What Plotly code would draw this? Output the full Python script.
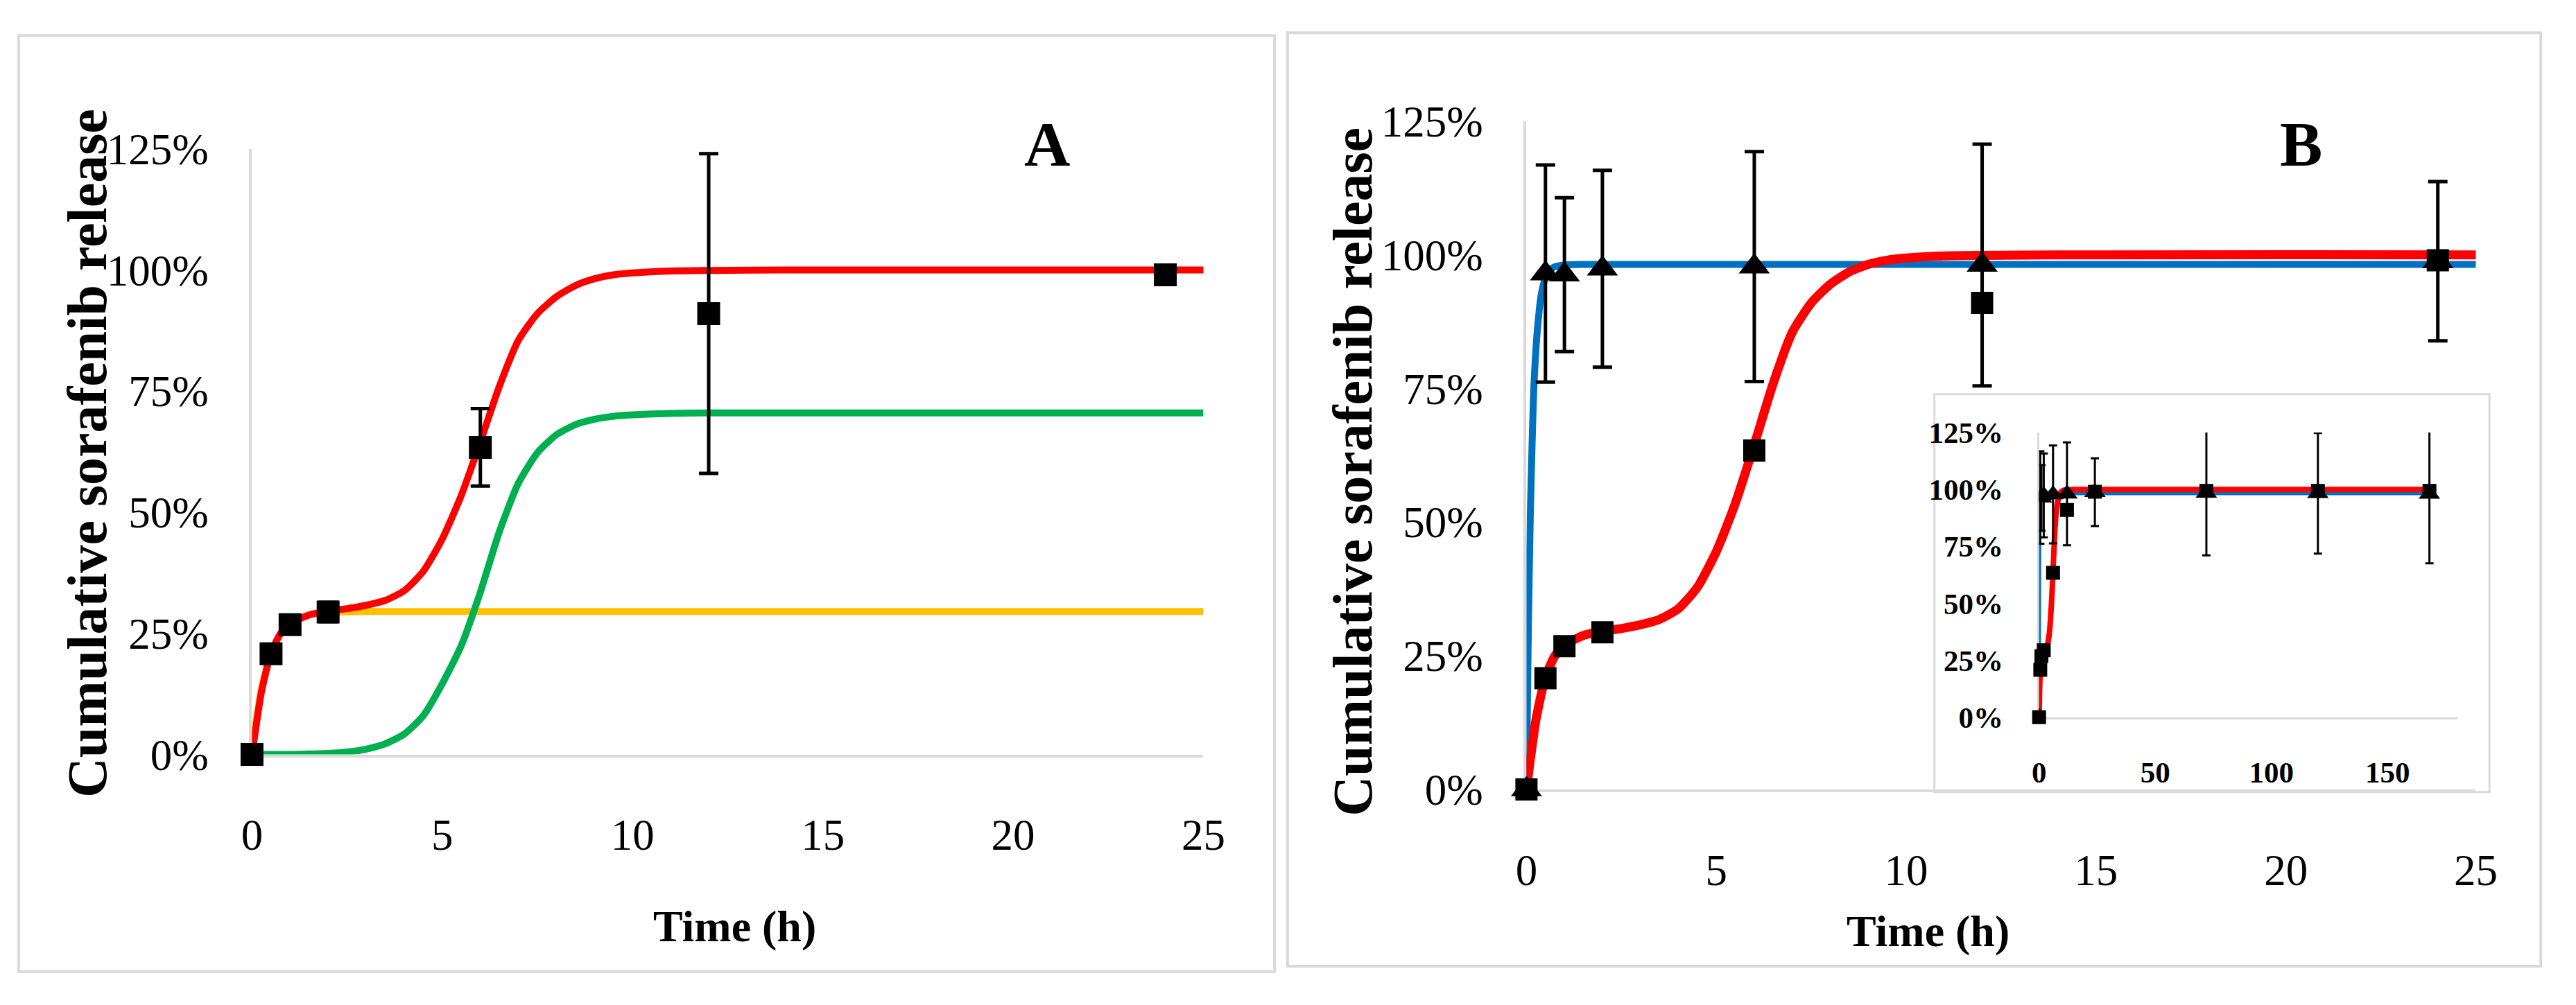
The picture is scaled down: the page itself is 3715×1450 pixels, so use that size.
import plotly.graph_objects as go

# ---------------- data ----------------
# measured release points (time in h, % released)
t_data = [0, 0.5, 1, 2, 6, 12, 24, 72, 120, 168]
sq_mean = [0, 20.8, 26.8, 29.4, 63.4, 91.0, 99.0, 99.4, 99.4, 99.4]
sq_sd = [0, 1.0, 1.0, 2.0, 8.0, 33.0, 1.0, 0, 0, 0]
tri_mean = [0, 96.5, 96.3, 97.4, 97.8, 98.1, 98.8, 98.5, 98.3, 98.0]
tri_sd = [0, 20.3, 14.4, 18.4, 21.5, 22.6, 14.9, 27.4, 26.5, 30.4]

# fitted curves
t_red = [0, 0.1, 0.25, 0.5, 0.75, 1, 1.5, 2, 2.5, 3, 3.5, 4, 4.5, 5, 5.5, 6,
         6.5, 7, 7.5, 8, 8.5, 9, 9.5, 10, 11, 12, 14, 25, 170]
red_fit = [0, 5.5, 13, 21, 25, 27, 28.8, 29.6, 30.1, 30.8, 31.8, 33.8, 37.8, 44.5,
           53.5, 64.5, 76, 85.5, 91.0, 94.5, 96.8, 98.2, 99.0, 99.4, 99.8, 99.9,
           100, 100, 100]
t_green = [0, 1, 1.5, 2, 2.5, 3, 3.5, 4, 4.5, 5, 5.5, 6, 6.5, 7, 7.5, 8, 8.5, 9,
           9.5, 10, 11, 12, 14, 25]
green_fit = [0, 0, 0.1, 0.2, 0.5, 1.1, 2.2, 4.2, 8.0, 14.6, 22.5, 33.5, 46.0, 56.0,
             62.3, 66.0, 68.1, 69.2, 69.8, 70.1, 70.4, 70.5, 70.5, 70.5]
t_yellow = [0, 0.1, 0.25, 0.5, 0.75, 1, 1.5, 2, 2.5, 3, 4, 25]
yellow_fit = [0, 6.5, 13.6, 21, 24.8, 27, 28.8, 29.3, 29.45, 29.5, 29.5, 29.5]
t_blue = [0, 0.02, 0.05, 0.1, 0.15, 0.2, 0.3, 0.4, 0.5, 0.7, 1, 1.5, 2, 170]
blue_fit = [0, 13, 30, 51, 65, 76, 87, 93, 95.6, 97.6, 98.1, 98.2, 98.2, 98.2]

y_ticks = [0, 25, 50, 75, 100, 125]
y_ticktext = ["0%", "25%", "50%", "75%", "100%", "125%"]
x_ticks_main = [0, 5, 10, 15, 20, 25]
x_ticks_inset = [0, 50, 100, 150]

RED = "#FF0000"
GREEN = "#00B050"
YELLOW = "#FFC000"
BLUE = "#0070C0"
GRAY = "#D9D9D9"
SERIF = "Liberation Serif"

W, H = 3715, 1450
n_main = 7  # points up to 24 h shown in the main panels


def curve(x, y, color, width, xa, ya):
    return go.Scatter(x=x, y=y, mode="lines",
                      line=dict(color=color, width=width, shape="spline",
                                smoothing=0.6),
                      xaxis=xa, yaxis=ya, hoverinfo="skip")


fig = go.Figure()

# ---------------- panel A ----------------
fig.add_trace(curve(t_yellow, yellow_fit, YELLOW, 10, "x", "y"))
fig.add_trace(curve(t_green, green_fit, GREEN, 10, "x", "y"))
fig.add_trace(curve(t_red, red_fit, RED, 10, "x", "y"))
fig.add_trace(go.Scatter(x=t_data[:n_main], y=sq_mean[:n_main], mode="markers",
                         marker=dict(symbol="square", size=33, color="black"),
                         error_y=dict(type="data", array=sq_sd[:n_main], color="black",
                                      thickness=5, width=14),
                         cliponaxis=False, xaxis="x", yaxis="y"))

# ---------------- panel B (main) ----------------
fig.add_trace(curve(t_blue, blue_fit, BLUE, 10, "x2", "y2"))
fig.add_trace(curve(t_red, red_fit, RED, 13, "x2", "y2"))
fig.add_trace(go.Scatter(x=t_data[:n_main], y=sq_mean[:n_main], mode="markers",
                         marker=dict(symbol="square", size=32, color="black"),
                         cliponaxis=False, xaxis="x2", yaxis="y2"))
fig.add_trace(go.Scatter(x=t_data[:n_main], y=tri_mean[:n_main], mode="markers",
                         marker=dict(symbol="triangle-up", size=39, color="black"),
                         error_y=dict(type="data", array=tri_sd[:n_main], color="black",
                                      thickness=5, width=14),
                         cliponaxis=False, xaxis="x2", yaxis="y2"))

# ---------------- inset ----------------
fig.add_trace(curve(t_blue, blue_fit, BLUE, 5, "x3", "y3"))
fig.add_trace(curve(t_red, red_fit, RED, 8, "x3", "y3"))
fig.add_trace(go.Scatter(x=t_data, y=sq_mean, mode="markers",
                         marker=dict(symbol="square", size=20, color="black"),
                         cliponaxis=False, xaxis="x3", yaxis="y3"))
fig.add_trace(go.Scatter(x=t_data, y=tri_mean, mode="markers",
                         marker=dict(symbol="triangle-up", size=27, color="black"),
                         error_y=dict(type="data", array=tri_sd, color="black",
                                      thickness=3, width=6),
                         cliponaxis=True, xaxis="x3", yaxis="y3"))


def px_x(v):
    return v / W


def px_y(v):
    return 1 - v / H


tick_font = dict(family=SERIF, size=63, color="black")
inset_font = dict(family=SERIF, size=43, color="black", weight="bold")

common_x = dict(showline=True, linecolor=GRAY, linewidth=4, showgrid=False,
                zeroline=False, ticks="", layer="below traces", fixedrange=True)
common_y = dict(showline=True, linecolor=GRAY, linewidth=4, showgrid=False,
                zeroline=False, ticks="", layer="below traces", fixedrange=True,
                tickvals=y_ticks, ticktext=y_ticktext, range=[0, 125])

fig.update_layout(
    width=W, height=H, autosize=False,
    margin=dict(l=0, r=0, t=0, b=0),
    paper_bgcolor="white", plot_bgcolor="white",
    showlegend=False,
    xaxis=dict(common_x, domain=[px_x(352), px_x(1742)], range=[0, 25],
               tickvals=x_ticks_main, tickfont=tick_font, ticklabelstandoff=58,
               anchor="y"),
    yaxis=dict(common_y, domain=[px_y(1108), px_y(190)], tickfont=tick_font,
               ticklabelstandoff=46, anchor="x"),
    xaxis2=dict(common_x, domain=[px_x(2214), px_x(3601)], range=[0, 25],
                tickvals=x_ticks_main, tickfont=tick_font, ticklabelstandoff=58,
                anchor="y2"),
    yaxis2=dict(common_y, domain=[px_y(1161), px_y(148)], tickfont=tick_font,
                ticklabelstandoff=46, anchor="x2"),
    xaxis3=dict(common_x, domain=[px_x(2963), px_x(3574)], range=[0, 180],
                tickvals=x_ticks_inset, tickfont=inset_font, ticklabelstandoff=40,
                linewidth=3, anchor="y3"),
    yaxis3=dict(common_y, domain=[px_y(1051.5), px_y(620)], tickfont=inset_font,
                ticklabelstandoff=40, linewidth=3, anchor="x3"),
)

# panel borders
fig.add_shape(type="rect", xref="paper", yref="paper",
              x0=px_x(11), x1=px_x(1846), y0=px_y(1437), y1=px_y(18),
              line=dict(color=GRAY, width=4), layer="below")
fig.add_shape(type="rect", xref="paper", yref="paper",
              x0=px_x(1865), x1=px_x(3696), y0=px_y(1429), y1=px_y(14),
              line=dict(color=GRAY, width=4), layer="below")
fig.add_shape(type="rect", xref="paper", yref="paper",
              x0=px_x(2810), x1=px_x(3621), y0=px_y(1165), y1=px_y(562),
              line=dict(color=GRAY, width=3), fillcolor="white", layer="below")

title_font = dict(family=SERIF, size=80, color="black", weight="bold")
xt_font = dict(family=SERIF, size=64, color="black", weight="bold")
letter_font = dict(family=SERIF, size=92, color="black", weight="bold")

annos = [
    dict(text="Cumulative sorafenib release", x=px_x(111), y=px_y(652),
         textangle=-90, font=title_font),
    dict(text="Cumulative sorafenib release", x=px_x(1960), y=px_y(680),
         textangle=-90, font=title_font),
    dict(text="Time (h)", x=px_x(1057), y=px_y(1369), font=xt_font),
    dict(text="Time (h)", x=px_x(2801), y=px_y(1376), font=xt_font),
    dict(text="A", x=px_x(1514), y=px_y(183), font=letter_font),
    dict(text="B", x=px_x(3346), y=px_y(183), font=letter_font),
]
for a in annos:
    fig.add_annotation(xref="paper", yref="paper", showarrow=False,
                       xanchor="center", yanchor="middle", **a)

fig.write_html("out.html", config={"displayModeBar": False},
               post_script="document.body.style.margin='0px';")
